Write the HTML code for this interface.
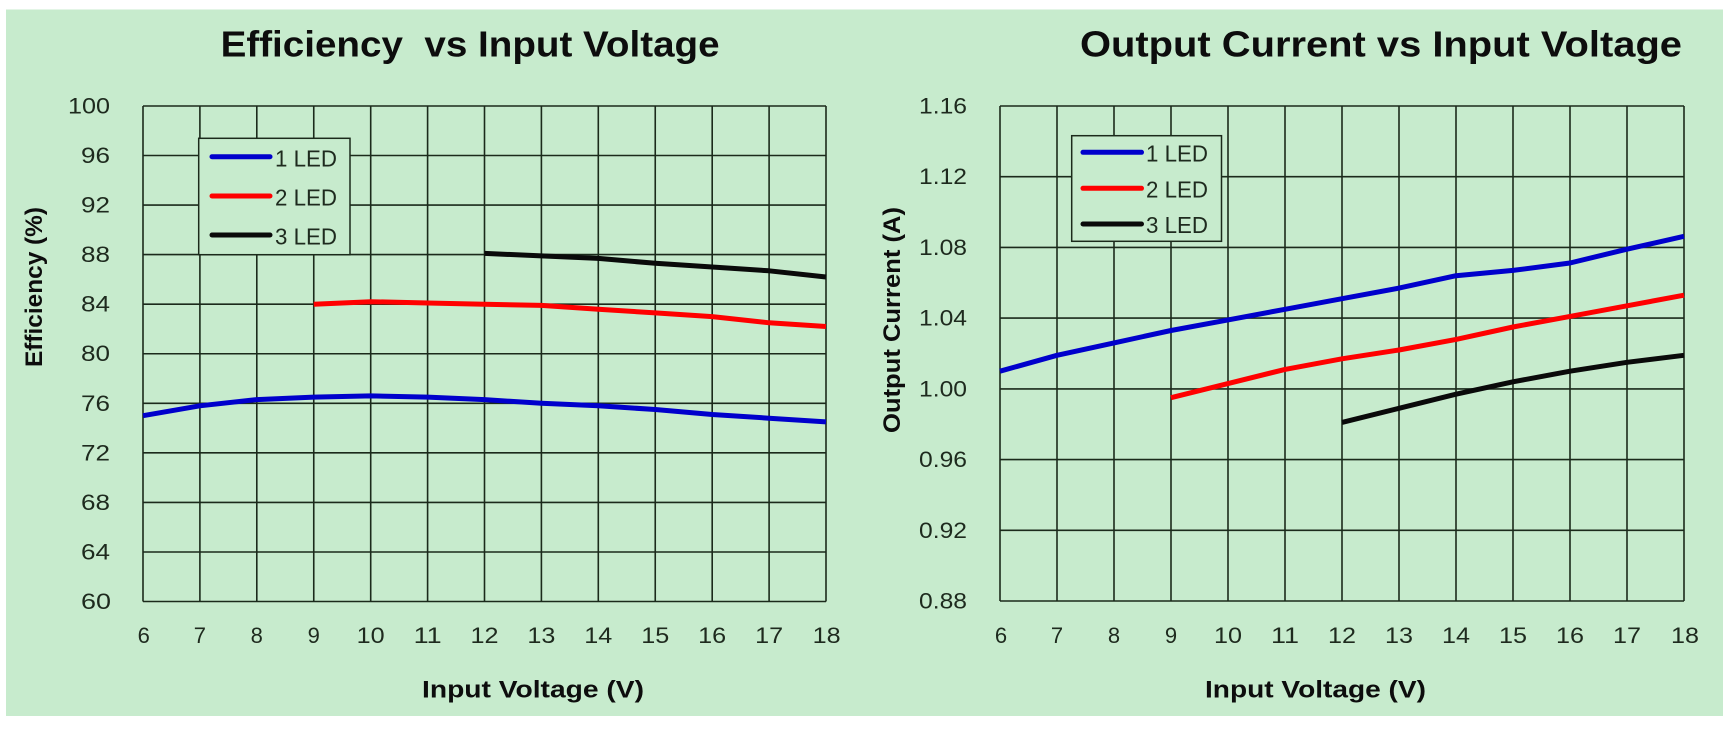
<!DOCTYPE html>
<html>
<head>
<meta charset="utf-8">
<style>
html,body{margin:0;padding:0;background:#ffffff;}
svg{display:block;}
text{font-family:"Liberation Sans",Arial,sans-serif;}
</style>
</head>
<body>
<svg width="1733" height="729" viewBox="0 0 1733 729" xmlns="http://www.w3.org/2000/svg">
  <rect x="0" y="0" width="1733" height="729" fill="#ffffff"/>
  <rect x="6" y="9.5" width="1717" height="706.5" fill="#c7ebcd"/>

  <!-- ============ LEFT CHART ============ -->
  <text x="220.6" y="56.7" font-size="36" font-weight="bold" fill="#0d0d0d" textLength="499" lengthAdjust="spacingAndGlyphs" xml:space="preserve">Efficiency  vs Input Voltage</text>

  <g stroke="#1b2a1b" stroke-width="1.6" fill="none">
    <!-- horizontal grid -->
    <line x1="143" y1="106" x2="826" y2="106"/>
    <line x1="143" y1="155.5" x2="826" y2="155.5"/>
    <line x1="143" y1="205.1" x2="826" y2="205.1"/>
    <line x1="143" y1="254.6" x2="826" y2="254.6"/>
    <line x1="143" y1="304.2" x2="826" y2="304.2"/>
    <line x1="143" y1="353.75" x2="826" y2="353.75"/>
    <line x1="143" y1="403.3" x2="826" y2="403.3"/>
    <line x1="143" y1="452.85" x2="826" y2="452.85"/>
    <line x1="143" y1="502.4" x2="826" y2="502.4"/>
    <line x1="143" y1="552" x2="826" y2="552"/>
    <line x1="143" y1="601.5" x2="826" y2="601.5"/>
    <!-- vertical grid -->
    <line x1="143" y1="106" x2="143" y2="601.5"/>
    <line x1="199.9" y1="106" x2="199.9" y2="601.5"/>
    <line x1="256.8" y1="106" x2="256.8" y2="601.5"/>
    <line x1="313.75" y1="106" x2="313.75" y2="601.5"/>
    <line x1="370.7" y1="106" x2="370.7" y2="601.5"/>
    <line x1="427.6" y1="106" x2="427.6" y2="601.5"/>
    <line x1="484.5" y1="106" x2="484.5" y2="601.5"/>
    <line x1="541.4" y1="106" x2="541.4" y2="601.5"/>
    <line x1="598.3" y1="106" x2="598.3" y2="601.5"/>
    <line x1="655.25" y1="106" x2="655.25" y2="601.5"/>
    <line x1="712.2" y1="106" x2="712.2" y2="601.5"/>
    <line x1="769.1" y1="106" x2="769.1" y2="601.5"/>
    <line x1="826" y1="106" x2="826" y2="601.5"/>
  </g>

  <!-- Y tick labels -->
  <g font-size="22" fill="#1e2a1e" text-anchor="end">
    <text x="110" y="113.5" textLength="42" lengthAdjust="spacingAndGlyphs">100</text>
    <text x="110" y="163" textLength="29" lengthAdjust="spacingAndGlyphs">96</text>
    <text x="110" y="212.6" textLength="29" lengthAdjust="spacingAndGlyphs">92</text>
    <text x="110" y="262.1" textLength="29" lengthAdjust="spacingAndGlyphs">88</text>
    <text x="110" y="311.7" textLength="29" lengthAdjust="spacingAndGlyphs">84</text>
    <text x="110" y="361.2" textLength="29" lengthAdjust="spacingAndGlyphs">80</text>
    <text x="110" y="410.8" textLength="29" lengthAdjust="spacingAndGlyphs">76</text>
    <text x="110" y="460.3" textLength="29" lengthAdjust="spacingAndGlyphs">72</text>
    <text x="110" y="509.9" textLength="29" lengthAdjust="spacingAndGlyphs">68</text>
    <text x="110" y="559.5" textLength="29" lengthAdjust="spacingAndGlyphs">64</text>
    <text x="111" y="609" textLength="30" lengthAdjust="spacingAndGlyphs">60</text>
  </g>
  <!-- X tick labels -->
  <g font-size="22" fill="#1e2a1e" text-anchor="middle">
    <text x="143.7" y="643">6</text>
    <text x="199.9" y="643">7</text>
    <text x="256.8" y="643">8</text>
    <text x="313.75" y="643">9</text>
    <text x="370.7" y="643" textLength="28" lengthAdjust="spacingAndGlyphs">10</text>
    <text x="427.6" y="643" textLength="28" lengthAdjust="spacingAndGlyphs">11</text>
    <text x="484.5" y="643" textLength="28" lengthAdjust="spacingAndGlyphs">12</text>
    <text x="541.4" y="643" textLength="28" lengthAdjust="spacingAndGlyphs">13</text>
    <text x="598.3" y="643" textLength="28" lengthAdjust="spacingAndGlyphs">14</text>
    <text x="655.25" y="643" textLength="28" lengthAdjust="spacingAndGlyphs">15</text>
    <text x="712.2" y="643" textLength="28" lengthAdjust="spacingAndGlyphs">16</text>
    <text x="769.1" y="643" textLength="28" lengthAdjust="spacingAndGlyphs">17</text>
    <text x="826.7" y="643" textLength="28" lengthAdjust="spacingAndGlyphs">18</text>
  </g>

  <text x="422" y="697.5" font-size="24" font-weight="bold" fill="#0d0d0d" textLength="222" lengthAdjust="spacingAndGlyphs">Input Voltage (V)</text>
  <text transform="translate(42,287) rotate(-90)" x="0" y="0" font-size="24" font-weight="bold" fill="#0d0d0d" text-anchor="middle" textLength="160" lengthAdjust="spacingAndGlyphs">Efficiency (%)</text>

  <!-- series -->
  <g fill="none" stroke-width="5" stroke-linejoin="round" stroke-linecap="butt">
    <polyline stroke="#0000cc" points="143,415.7 199.9,405.8 256.8,399.6 313.75,397.1 370.7,395.9 427.6,397.1 484.5,399.6 541.4,403.3 598.3,405.8 655.25,409.5 712.2,414.5 769.1,418.2 826,421.9"/>
    <polyline stroke="#ff0000" points="313.75,304.2 370.7,301.7 427.6,303 484.5,304.2 541.4,305.4 598.3,309.2 655.25,312.9 712.2,316.6 769.1,322.8 826,326.5"/>
    <polyline stroke="#0a0a0a" points="484.5,253.4 541.4,255.9 598.3,258.4 655.25,263.3 712.2,267 769.1,270.8 826,277"/>
  </g>

  <!-- legend -->
  <rect x="198.7" y="138.3" width="151.3" height="116.4" fill="#c7ebcd" stroke="#1b2a1b" stroke-width="1.5"/>
  <g stroke-width="5" stroke-linecap="round">
    <line x1="212" y1="156.7" x2="270" y2="156.7" stroke="#0000cc"/>
    <line x1="212" y1="196" x2="270" y2="196" stroke="#ff0000"/>
    <line x1="212" y1="235" x2="270" y2="235" stroke="#0a0a0a"/>
  </g>
  <g font-size="23" fill="#1e2a1e">
    <text x="275" y="166.5" textLength="62" lengthAdjust="spacingAndGlyphs">1 LED</text>
    <text x="275" y="205.5" textLength="62" lengthAdjust="spacingAndGlyphs">2 LED</text>
    <text x="275" y="244.5" textLength="62" lengthAdjust="spacingAndGlyphs">3 LED</text>
  </g>

  <!-- ============ RIGHT CHART ============ -->
  <text x="1080" y="56.7" font-size="36" font-weight="bold" fill="#0d0d0d" textLength="602" lengthAdjust="spacingAndGlyphs">Output Current vs Input Voltage</text>

  <g stroke="#1b2a1b" stroke-width="1.6" fill="none">
    <line x1="1000" y1="106" x2="1684" y2="106"/>
    <line x1="1000" y1="176.7" x2="1684" y2="176.7"/>
    <line x1="1000" y1="247.4" x2="1684" y2="247.4"/>
    <line x1="1000" y1="318.1" x2="1684" y2="318.1"/>
    <line x1="1000" y1="388.9" x2="1684" y2="388.9"/>
    <line x1="1000" y1="459.6" x2="1684" y2="459.6"/>
    <line x1="1000" y1="530.3" x2="1684" y2="530.3"/>
    <line x1="1000" y1="601" x2="1684" y2="601"/>
    <line x1="1000" y1="106" x2="1000" y2="601"/>
    <line x1="1057" y1="106" x2="1057" y2="601"/>
    <line x1="1114" y1="106" x2="1114" y2="601"/>
    <line x1="1171" y1="106" x2="1171" y2="601"/>
    <line x1="1228" y1="106" x2="1228" y2="601"/>
    <line x1="1285" y1="106" x2="1285" y2="601"/>
    <line x1="1342" y1="106" x2="1342" y2="601"/>
    <line x1="1399" y1="106" x2="1399" y2="601"/>
    <line x1="1456" y1="106" x2="1456" y2="601"/>
    <line x1="1513" y1="106" x2="1513" y2="601"/>
    <line x1="1570" y1="106" x2="1570" y2="601"/>
    <line x1="1627" y1="106" x2="1627" y2="601"/>
    <line x1="1684" y1="106" x2="1684" y2="601"/>
  </g>

  <g font-size="22" fill="#1e2a1e" text-anchor="end">
    <text x="967" y="113.5" textLength="48" lengthAdjust="spacingAndGlyphs">1.16</text>
    <text x="967" y="184.2" textLength="48" lengthAdjust="spacingAndGlyphs">1.12</text>
    <text x="967" y="254.9" textLength="48" lengthAdjust="spacingAndGlyphs">1.08</text>
    <text x="967" y="325.6" textLength="48" lengthAdjust="spacingAndGlyphs">1.04</text>
    <text x="967" y="396.4" textLength="48" lengthAdjust="spacingAndGlyphs">1.00</text>
    <text x="967" y="467.1" textLength="48" lengthAdjust="spacingAndGlyphs">0.96</text>
    <text x="967" y="537.8" textLength="48" lengthAdjust="spacingAndGlyphs">0.92</text>
    <text x="967" y="608.5" textLength="48" lengthAdjust="spacingAndGlyphs">0.88</text>
  </g>
  <g font-size="22" fill="#1e2a1e" text-anchor="middle">
    <text x="1001" y="643">6</text>
    <text x="1057" y="643">7</text>
    <text x="1114" y="643">8</text>
    <text x="1171" y="643">9</text>
    <text x="1228" y="643" textLength="28" lengthAdjust="spacingAndGlyphs">10</text>
    <text x="1285" y="643" textLength="28" lengthAdjust="spacingAndGlyphs">11</text>
    <text x="1342" y="643" textLength="28" lengthAdjust="spacingAndGlyphs">12</text>
    <text x="1399" y="643" textLength="28" lengthAdjust="spacingAndGlyphs">13</text>
    <text x="1456" y="643" textLength="28" lengthAdjust="spacingAndGlyphs">14</text>
    <text x="1513" y="643" textLength="28" lengthAdjust="spacingAndGlyphs">15</text>
    <text x="1570" y="643" textLength="28" lengthAdjust="spacingAndGlyphs">16</text>
    <text x="1627" y="643" textLength="28" lengthAdjust="spacingAndGlyphs">17</text>
    <text x="1685" y="643" textLength="28" lengthAdjust="spacingAndGlyphs">18</text>
  </g>

  <text x="1205" y="697.5" font-size="24" font-weight="bold" fill="#0d0d0d" textLength="221" lengthAdjust="spacingAndGlyphs">Input Voltage (V)</text>
  <text transform="translate(900,320) rotate(-90)" x="0" y="0" font-size="24" font-weight="bold" fill="#0d0d0d" text-anchor="middle" textLength="226" lengthAdjust="spacingAndGlyphs">Output Current (A)</text>

  <g fill="none" stroke-width="5" stroke-linejoin="round" stroke-linecap="butt">
    <polyline stroke="#0000cc" points="1000,371.2 1057,355.3 1114,342.9 1171,330.5 1228,319.9 1285,309.3 1342,298.7 1399,288.1 1456,275.7 1513,270.4 1570,263 1627,249.2 1684,236.3"/>
    <polyline stroke="#ff0000" points="1171,397.7 1228,383.6 1285,369.4 1342,358.8 1399,350 1456,339.4 1513,327 1570,316.4 1627,305.8 1684,295.2"/>
    <polyline stroke="#0a0a0a" points="1342,422.4 1399,408.3 1456,394.2 1513,381.8 1570,371.2 1627,362.3 1684,355.3"/>
  </g>

  <rect x="1071.7" y="135.7" width="149.8" height="105.6" fill="#c7ebcd" stroke="#1b2a1b" stroke-width="1.5"/>
  <g stroke-width="5" stroke-linecap="round">
    <line x1="1083" y1="152.3" x2="1141.5" y2="152.3" stroke="#0000cc"/>
    <line x1="1083" y1="188.3" x2="1141.5" y2="188.3" stroke="#ff0000"/>
    <line x1="1083" y1="224" x2="1141.5" y2="224" stroke="#0a0a0a"/>
  </g>
  <g font-size="23" fill="#1e2a1e">
    <text x="1146" y="161.5" textLength="62" lengthAdjust="spacingAndGlyphs">1 LED</text>
    <text x="1146" y="197.5" textLength="62" lengthAdjust="spacingAndGlyphs">2 LED</text>
    <text x="1146" y="233" textLength="62" lengthAdjust="spacingAndGlyphs">3 LED</text>
  </g>
</svg>
</body>
</html>
